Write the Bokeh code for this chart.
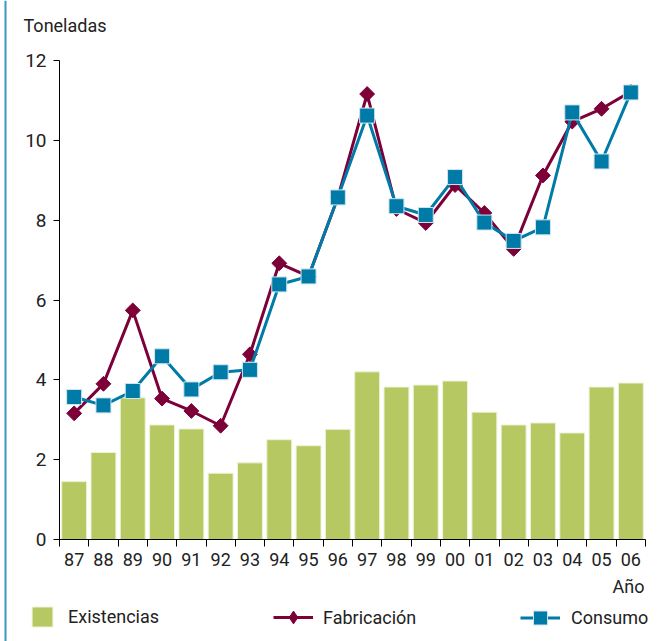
import numpy as np
from bokeh.plotting import figure
from bokeh.models import (ColumnDataSource, Range1d, FixedTicker, Legend, LegendItem,
                          Label, Span)
from bokeh.embed import file_html
from bokeh.resources import INLINE

years = ["87", "88", "89", "90", "91", "92", "93", "94", "95", "96",
         "97", "98", "99", "00", "01", "02", "03", "04", "05", "06"]
existencias = [1.45, 2.18, 3.55, 2.87, 2.77, 1.66, 1.92, 2.50, 2.35, 2.76,
               4.20, 3.82, 3.87, 3.97, 3.19, 2.87, 2.92, 2.67, 3.82, 3.92]
fabricacion = [3.16, 3.90, 5.74, 3.53, 3.22, 2.85, 4.64, 6.92, 6.59, 8.57,
               11.16, 8.28, 7.93, 8.88, 8.18, 7.28, 9.12, 10.47, 10.79, 11.22]
consumo = [3.57, 3.36, 3.72, 4.59, 3.76, 4.19, 4.25, 6.39, 6.59, 8.57,
           10.62, 8.35, 8.13, 9.08, 7.94, 7.48, 7.82, 10.70, 9.47, 11.20]
y_ticks = [0, 2, 4, 6, 8, 10, 12]
y_max = 12

FONT = "Roboto"
TXT = "#222222"
GREEN = "#b5c862"
MAROON = "#7d0039"
BLUE = "#007aa6"

W, H = 664, 641
# pixel geometry of the plotting area inside the canvas
PX_L, PX_R, PX_T, PX_B = 59, 645, 60, 539
n = len(years)
kx = (PX_R - PX_L) / n              # px per category
ky = (PX_B - PX_T) / y_max          # px per unit
x0 = -0.5 - PX_L / kx
x1 = n - 0.5 + (W - PX_R) / kx
y1 = y_max + PX_T / ky
y0 = -(H - PX_B) / ky

def dx(px):
    return x0 + px / kx

def dy(py):
    return y1 - py / ky

idx = np.arange(n)
src = ColumnDataSource(dict(x=idx, ex=existencias, fa=fabricacion, co=consumo))

p = figure(width=W, height=H, output_backend="svg", toolbar_location=None,
           x_range=Range1d(x0, x1), y_range=Range1d(y0, y1),
           min_border=0, min_border_left=0, min_border_right=0,
           min_border_top=0, min_border_bottom=0)
p.outline_line_color = None
p.xgrid.visible = False
p.ygrid.visible = False

bars = p.vbar(x="x", top="ex", width=0.85, source=src, fill_color=GREEN,
              line_color="#eef2d6", line_width=1)
fl = p.line("x", "fa", source=src, line_color=MAROON, line_width=3)
fm = p.scatter("x", "fa", source=src, marker="square", angle=np.pi / 4, size=10.5,
               fill_color=MAROON, line_color=MAROON, line_width=1)
cl = p.line("x", "co", source=src, line_color=BLUE, line_width=3)
cm = p.scatter("x", "co", source=src, marker="square", size=15,
               fill_color=BLUE, line_color="#cfe6ef", line_width=1)
# legend-only diamond marker (a single undrawn NaN point)
fm_leg = p.scatter(x=[np.nan], y=[np.nan], marker="diamond", fill_color=MAROON,
                   line_color=MAROON, line_width=1)

# x axis: labels at category centres, ticks at category boundaries
xa = p.xaxis[0]
xa.fixed_location = 0
xa.bounds = (-0.5, n - 0.5)
xa.ticker = FixedTicker(ticks=list(idx), minor_ticks=list(np.arange(n + 1) - 0.5))
xa.major_label_overrides = {int(i): years[i] for i in idx}
xa.major_tick_out = 0
xa.major_tick_in = 0
xa.minor_tick_out = 7
xa.minor_tick_in = 0
xa.minor_tick_line_color = "black"
xa.axis_line_color = "black"
xa.major_label_standoff = 6
xa.major_label_text_font = FONT
xa.major_label_text_font_size = "18px"
xa.major_label_text_color = TXT

ya = p.yaxis[0]
ya.fixed_location = -0.5
ya.bounds = (0, y_max)
ya.ticker = FixedTicker(ticks=y_ticks)
ya.major_tick_out = 6
ya.major_tick_in = 0
ya.minor_tick_line_color = None
ya.axis_line_color = "black"
ya.major_label_standoff = 7
ya.major_label_text_font = FONT
ya.major_label_text_font_size = "19px"
ya.major_label_text_color = TXT

p.add_layout(Span(location=dx(5), dimension="height", line_color="#3f95c3",
                  line_width=2))

p.add_layout(Label(x=dx(23), y=dy(25), text="Toneladas", text_font=FONT,
                   text_font_size="18px", text_color=TXT, text_baseline="alphabetic"))
p.add_layout(Label(x=dx(644), y=dy(586), text="Año", text_font=FONT,
                   text_font_size="18px", text_color=TXT, text_align="right",
                   text_baseline="alphabetic"))

def mk_legend(items, x, y, gw, gh, standoff):
    lg = Legend(items=items, location=(x, y), orientation="horizontal",
                glyph_width=gw, glyph_height=gh, label_standoff=standoff,
                label_text_font=FONT, label_text_font_size="18px",
                label_text_color=TXT, label_height=gh, label_width=10,
                border_line_color=None, background_fill_alpha=0,
                padding=0, margin=0, spacing=0)
    p.add_layout(lg, "center")

mk_legend([LegendItem(label="Existencias", renderers=[bars])], 29, H - 629, 26, 25, 13)
mk_legend([LegendItem(label="Fabricación", renderers=[fl, fm_leg])], 273, H - 633, 40, 32, 10)
mk_legend([LegendItem(label="Consumo", renderers=[cl, cm])], 520, H - 635, 40, 35, 11)

open("out.html", "w").write(file_html(p, INLINE))
